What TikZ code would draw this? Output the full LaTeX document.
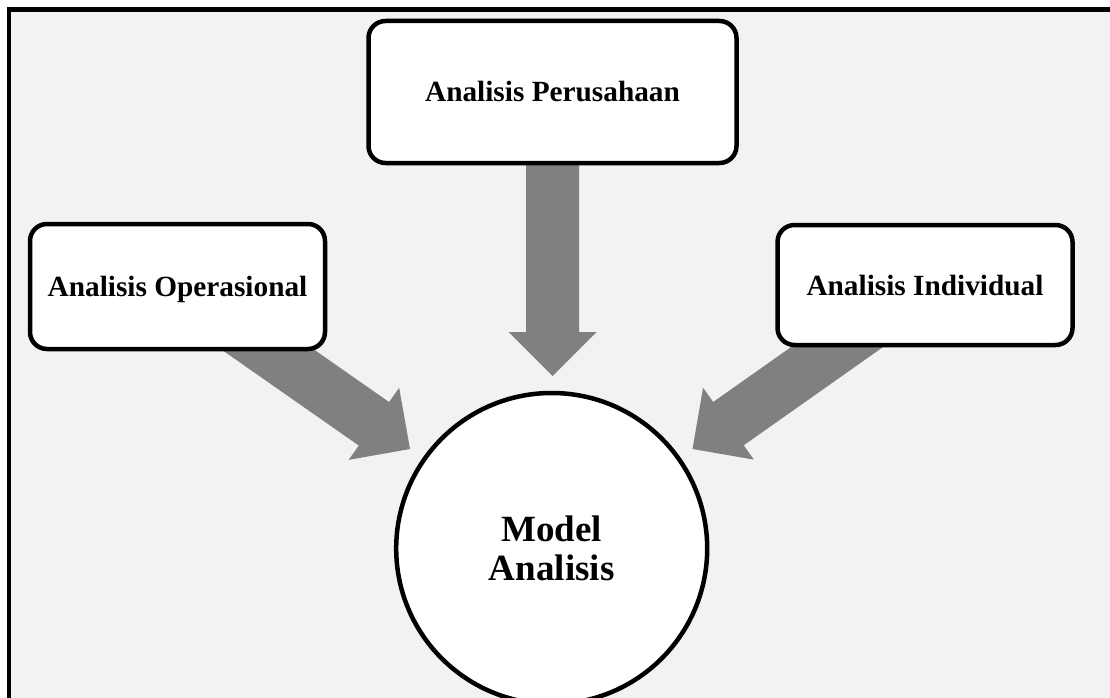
\documentclass[tikz,border=0pt]{standalone}
\usepackage{fontspec}
\setmainfont{Liberation Serif}
\usetikzlibrary{calc}
\definecolor{bgfill}{HTML}{F2F2F2}
\definecolor{arrowgray}{HTML}{808080}
\tikzset{
  boxnode/.style={draw=black, line width=4.5pt, fill=white, rounded corners=17pt,
    font=\bfseries\fontsize{29.3}{35}\selectfont, text height=20pt, text depth=0pt,
    inner sep=0pt, outer sep=0pt},
  circnode/.style={draw=black, line width=4.5pt, fill=white, circle, minimum size=311pt,
    font=\bfseries\fontsize{37}{38.6}\selectfont, align=center, inner sep=0pt},
  framestyle/.style={draw=black, line width=4.3pt},
}
% fat block arrow from #1 (start, hidden in box) to #2 (tip)
\newcommand{\fatarrow}[2]{%
  \fill[arrowgray]
    ($(#1)!26.5pt!90:(#2)$) --
    ($($(#2)!44pt!(#1)$)!26.5pt!-90:(#1)$) --
    ($($(#2)!44pt!(#1)$)!44pt!-90:(#1)$) --
    (#2) --
    ($($(#2)!44pt!(#1)$)!44pt!90:(#1)$) --
    ($($(#2)!44pt!(#1)$)!26.5pt!90:(#1)$) --
    ($(#1)!26.5pt!-90:(#2)$) -- cycle;}
\begin{document}
\begin{tikzpicture}[x=1pt,y=-1pt]
\useasboundingbox (0,0) rectangle (1110,698);
\clip (0,0) rectangle (1110,698);
% background frame
\fill[bgfill] (9,9.5) rectangle (1130,720);
\draw[framestyle] (8.9,730) -- (8.9,9.5) -- (1130,9.5);
% anchor points
\coordinate (sT) at (552.5,92);
\coordinate (sL) at (177.5,286.5);
\coordinate (sR) at (925,285);
\coordinate (tT) at (552.5,376);
\coordinate (tL) at (410,449);
\coordinate (tR) at (692.5,449);
% arrows
\fatarrow{sT}{tT}
\fatarrow{sL}{tL}
\fatarrow{sR}{tR}
% boxes
\node[boxnode, minimum width=368pt, minimum height=142pt] (top) at (sT) {Analisis Perusahaan};
\node[boxnode, minimum width=295pt, minimum height=125pt] (left) at (sL) {Analisis Operasional};
\node[boxnode, minimum width=295pt, minimum height=120pt] (right) at (sR) {Analisis Individual};
\node[circnode] (model) at (551.7,548.5) {Model\\Analisis};
\end{tikzpicture}
\end{document}
